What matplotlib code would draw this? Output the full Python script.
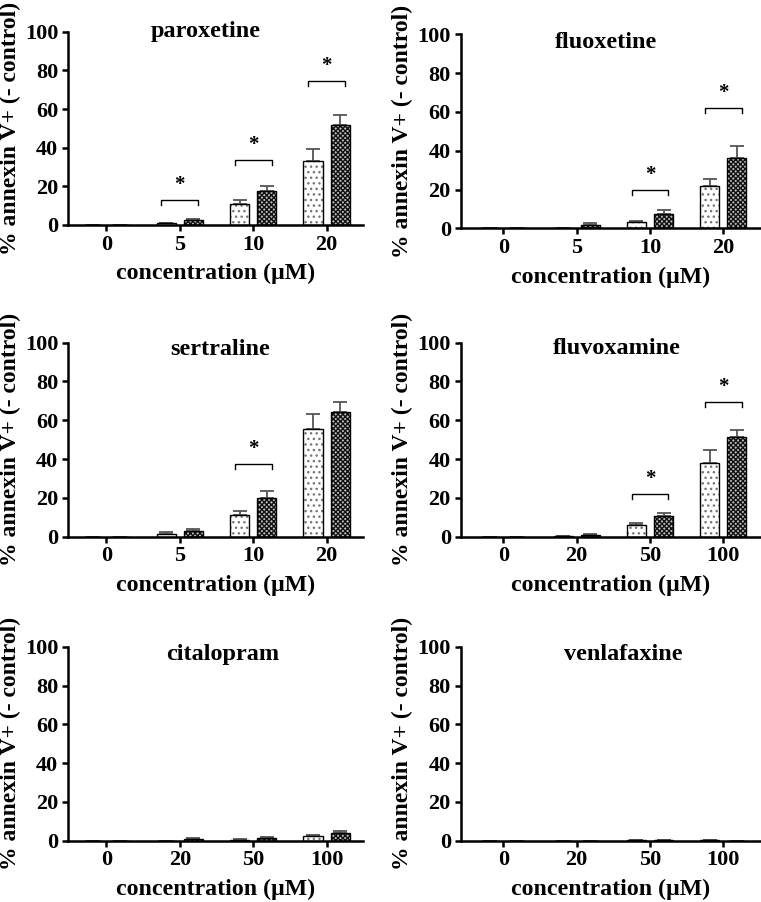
import matplotlib
matplotlib.use('Agg')
import matplotlib.pyplot as plt
import numpy as np

plt.rcParams['font.family'] = 'Liberation Serif'
plt.rcParams['font.weight'] = 'bold'
plt.rcParams['hatch.linewidth'] = 1.0

drugs = ['paroxetine', 'fluoxetine', 'sertraline', 'fluvoxamine', 'citalopram', 'venlafaxine']
conc_labels = [['0', '5', '10', '20'], ['0', '5', '10', '20'], ['0', '5', '10', '20'],
               ['0', '20', '50', '100'], ['0', '20', '50', '100'], ['0', '20', '50', '100']]

# light (dotted) bars and dark (checkered) bars, mean and upper SEM
light_means = [[0, 0.8, 10.7, 33.1], [0, 0, 3.1, 21.8], [0, 1.2, 11.2, 55.3],
               [0, 0.2, 5.9, 38.1], [0, 0, 0.5, 2.5], [0, 0, 0.3, 0.2]]
light_err = [[0, 0.3, 2.2, 6.0], [0, 0, 0.6, 3.6], [0, 1.0, 2.0, 7.8],
             [0, 0.2, 1.0, 6.4], [0, 0, 0.3, 0.5], [0, 0, 0.1, 0.1]]
dark_means = [[0, 2.6, 17.6, 51.6], [0, 1.7, 7.4, 36.4], [0, 2.9, 19.8, 64.1],
              [0, 0.8, 10.7, 51.4], [0, 1.0, 1.2, 4.0], [0, 0, 0.2, 0]]
dark_err = [[0, 0.3, 2.6, 5.1], [0, 1.2, 2.2, 6.2], [0, 0.9, 3.8, 5.5],
            [0, 0.6, 1.3, 3.4], [0, 0.5, 0.6, 1.0], [0, 0, 0.1, 0]]

# significant groups (index) and bracket heights
sig_groups = [[1, 2, 3], [2, 3], [2], [2, 3], [], []]
bracket_y = [[12.9, 33.6, 74.5], [19.6, 62.0], [37.3], [21.9, 69.4], [], []]

W, H = 761, 902
fig = plt.figure(figsize=(W / 100, H / 100), dpi=100)

# panel rectangles in pixels: (left, right, top, bottom)
rects = [(68, 363, 31.7, 225), (460.5, 760, 34.3, 228.3),
         (68, 363, 342.7, 536.7), (460.5, 760, 342.7, 536.7),
         (68, 363, 646.7, 840.7), (460.5, 760, 646.7, 840.7)]
xlims = [(-0.524, 3.497), (-0.584, 3.5)] * 3
title_pos = [(1.35, 97.0), (1.40, 93.0), (1.55, 93.5), (1.55, 94.0), (1.58, 93.0), (1.64, 93.0)]

off = 0.185
bw = 0.26

for i, name in enumerate(drugs):
    l, r, t, b = rects[i]
    ax = fig.add_axes([l / W, 1 - b / H, (r - l) / W, (b - t) / H])
    x = np.arange(4)

    # light bars: grey dots
    ax.bar(x - off, light_means[i], bw, color='white', edgecolor='#777777', hatch='...', linewidth=0, zorder=2)
    ax.bar(x - off, light_means[i], bw, color='none', edgecolor='black', linewidth=1.0, zorder=3)
    # dark bars: dense checker
    ax.bar(x + off, dark_means[i], bw, color='#bbbbbb', edgecolor='#111111', hatch='xxxxxxx', linewidth=0, zorder=2)
    ax.bar(x + off, dark_means[i], bw, color='none', edgecolor='black', linewidth=1.0, zorder=3)

    ax.errorbar(x - off, light_means[i], yerr=[np.zeros(4), light_err[i]], fmt='none',
                ecolor='#555555', elinewidth=1.3, capsize=5, capthick=1.3, zorder=1)
    ax.errorbar(x + off, dark_means[i], yerr=[np.zeros(4), dark_err[i]], fmt='none',
                ecolor='#555555', elinewidth=1.3, capsize=5, capthick=1.3, zorder=1)

    for g, yb in zip(sig_groups[i], bracket_y[i]):
        ax.plot([g - 0.25, g - 0.25, g + 0.25, g + 0.25], [yb - 2.5, yb, yb, yb - 2.5],
                color='black', lw=1.0)
        ax.text(g, yb + 2.5, '*', ha='center', va='bottom', fontsize=15, fontweight='bold')

    tx, ty = title_pos[i]
    ax.text(tx, ty, name, ha='center', va='baseline', fontsize=17.5, fontweight='bold')

    ax.set_xlim(*xlims[i])
    ax.set_ylim(0, 100)
    ax.set_yticks([0, 20, 40, 60, 80, 100])
    ax.set_xticks(x)
    ax.set_xticklabels(conc_labels[i])
    ax.spines['top'].set_visible(False)
    ax.spines['right'].set_visible(False)
    ax.spines['left'].set_linewidth(1.8)
    ax.spines['bottom'].set_linewidth(1.8)
    ax.tick_params(axis='both', direction='out', length=4, width=1.8, labelsize=16, pad=3)
    for lab in ax.get_xticklabels() + ax.get_yticklabels():
        lab.set_fontweight('bold')
    ax.set_ylabel('% annexin V+ (- control)', fontsize=17, fontweight='bold', labelpad=3)
    ax.set_xlabel('concentration (\u00b5M)', fontsize=17.2, fontweight='bold', labelpad=6)

fig.savefig('out.png', dpi=100)
